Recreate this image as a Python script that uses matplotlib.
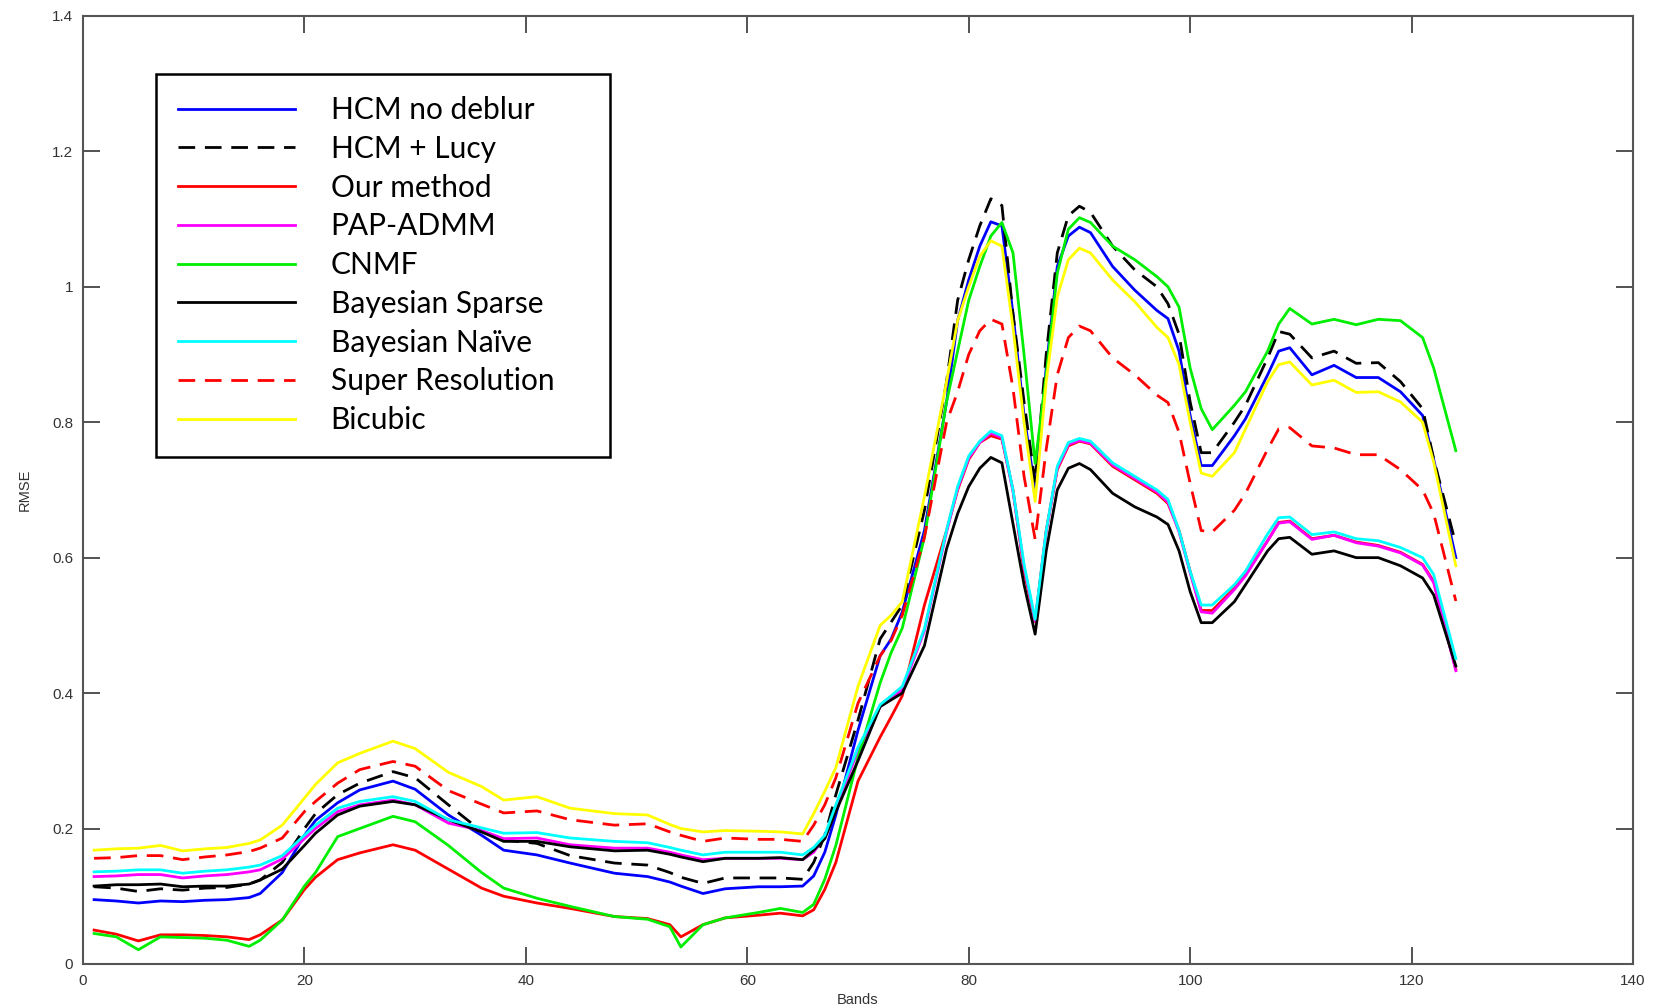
import matplotlib
matplotlib.use('Agg')
import matplotlib.pyplot as plt
from matplotlib.ticker import FormatStrFormatter

plt.rcParams['font.family'] = ['Liberation Sans', 'DejaVu Sans']

# spectral bands sampled along the curves
bands = [1, 3, 5, 7, 9, 11, 13, 15, 16, 18, 20, 21, 23, 25, 28, 30, 33, 36, 38, 41, 44, 48, 51, 53, 54, 56, 58, 61, 63, 65,
         66, 67, 68, 70, 72, 73, 74, 76, 78, 79, 80, 81, 82, 83, 84, 85, 86, 87, 88, 89, 90,
         91, 93, 95, 97, 98, 99, 100, 101, 102, 104, 105, 107, 108, 109, 111, 113, 115, 117, 119, 121, 122, 124]

hcm_no_deblur = [.095, .093, .090, .093, .092, .094, .095, .098, .104, .135, .190, .212, .238, .257, .270, .258, .220, .190, .168, .161,
                 .149, .134, .129, .121, .115, .104, .111, .114, .114, .115,
                 .130, .165, .220, .345, .455, .480, .520, .640, .830, .950, 1.010, 1.060, 1.096, 1.090, .960, .810, .700, .880, 1.030, 1.075, 1.088,
                 1.080, 1.030, .995, .965, .953, .905, .810, .736, .736, .780, .805, .870, .905, .910, .870, .884, .866, .866, .845, .810, .745, .600]

hcm_lucy = [.114, .112, .107, .111, .109, .112, .113, .118, .124, .150, .200, .222, .250, .267, .284, .275, .235, .196, .183, .178,
            .160, .149, .146, .135, .128, .119, .127, .127, .127, .125,
            .150, .190, .250, .360, .480, .505, .530, .670, .860, .980, 1.040, 1.090, 1.130, 1.120, .960, .830, .711, .900, 1.050, 1.105, 1.119,
            1.110, 1.060, 1.025, 1.000, .975, .930, .830, .755, .755, .800, .825, .895, .934, .930, .895, .905, .887, .888, .860, .820, .746, .620]

our_method = [.050, .044, .034, .043, .043, .042, .040, .036, .043, .065, .110, .128, .154, .164, .176, .168, .140, .112, .100, .090,
              .082, .070, .067, .058, .040, .058, .068, .072, .075, .071,
              .080, .110, .150, .270, .335, .365, .396, .530, .640, .700, .745, .770, .780, .775, .700, .580, .505, .640, .730, .765, .772,
              .768, .735, .715, .695, .680, .640, .580, .522, .522, .555, .575, .625, .652, .654, .628, .633, .623, .618, .608, .590, .565, .435]

pap_admm = [.129, .130, .132, .132, .127, .130, .132, .136, .139, .155, .185, .200, .225, .235, .242, .235, .208, .197, .185, .186,
            .176, .171, .171, .165, .161, .154, .156, .156, .156, .154,
            .165, .188, .230, .315, .380, .393, .405, .492, .638, .702, .747, .770, .784, .777, .698, .586, .506, .638, .732, .767, .773,
            .769, .737, .717, .697, .682, .638, .578, .520, .518, .553, .573, .625, .651, .653, .627, .633, .622, .617, .607, .589, .563, .433]

cnmf = [.045, .040, .021, .040, .039, .038, .035, .026, .035, .065, .115, .135, .188, .200, .218, .210, .175, .135, .112, .097,
        .085, .070, .066, .055, .025, .058, .068, .076, .082, .076,
        .088, .125, .175, .305, .415, .460, .496, .630, .830, .905, .980, 1.030, 1.075, 1.095, 1.050, .900, .739, .870, 1.020, 1.085, 1.102,
        1.095, 1.060, 1.040, 1.015, 1.000, .970, .880, .820, .789, .825, .845, .905, .945, .968, .945, .952, .944, .952, .950, .925, .880, .758]

bayes_sparse = [.115, .117, .117, .118, .114, .115, .115, .118, .124, .140, .175, .193, .220, .233, .240, .235, .213, .195, .181, .181,
                .173, .167, .168, .162, .158, .151, .156, .156, .157, .154,
                .168, .185, .225, .300, .380, .390, .400, .470, .613, .665, .705, .732, .748, .740, .650, .560, .487, .610, .700, .732, .739,
                .730, .695, .675, .660, .649, .610, .550, .504, .504, .535, .560, .610, .628, .630, .605, .610, .600, .600, .588, .570, .545, .440]

bayes_naive = [.136, .137, .139, .139, .134, .137, .139, .143, .146, .160, .190, .205, .230, .240, .247, .240, .213, .201, .193, .194,
               .186, .181, .179, .172, .168, .161, .165, .165, .165, .161,
               .172, .190, .235, .320, .383, .396, .410, .495, .641, .705, .750, .772, .787, .780, .700, .590, .509, .640, .735, .770, .776,
               .772, .740, .720, .700, .686, .640, .580, .530, .530, .560, .580, .635, .659, .660, .634, .638, .628, .625, .615, .600, .575, .451]

super_res = [.156, .157, .160, .160, .154, .158, .161, .166, .171, .186, .225, .240, .267, .287, .299, .292, .256, .236, .223, .226,
             .213, .205, .207, .195, .190, .181, .186, .184, .184, .181,
             .205, .235, .275, .385, .455, .478, .515, .630, .800, .845, .900, .935, .952, .945, .850, .720, .627, .760, .870, .925, .942,
             .935, .895, .870, .840, .829, .785, .710, .640, .638, .670, .695, .760, .790, .792, .765, .762, .752, .752, .730, .700, .665, .536]

bicubic = [.168, .170, .171, .175, .167, .170, .172, .178, .183, .205, .245, .265, .297, .311, .329, .318, .283, .262, .242, .247,
           .230, .222, .220, .206, .200, .195, .197, .196, .195, .192,
           .222, .255, .290, .410, .500, .515, .535, .690, .860, .950, 1.000, 1.045, 1.068, 1.060, .940, .800, .683, .860, .985, 1.040, 1.057,
           1.050, 1.010, .978, .940, .925, .885, .800, .725, .720, .755, .790, .860, .885, .889, .855, .862, .844, .845, .830, .800, .741, .588]

series = [
    ('HCM no deblur', hcm_no_deblur, '#0000ff', '-'),
    ('HCM + Lucy', hcm_lucy, 'black', '--'),
    ('Our method', our_method, '#ff0000', '-'),
    ('PAP-ADMM', pap_admm, '#ff00ff', '-'),
    ('CNMF', cnmf, '#00ee00', '-'),
    ('Bayesian Sparse', bayes_sparse, 'black', '-'),
    ('Bayesian Naïve', bayes_naive, '#00ffff', '-'),
    ('Super Resolution', super_res, '#ff0000', '--'),
    ('Bicubic', bicubic, '#ffff00', '-'),
]

fig = plt.figure(figsize=(16.57, 10.08), dpi=100)
ax = fig.add_axes([0.0501, 0.0437, 0.9354, 0.9405])

for name, vals, col, ls in series:
    if ls == '--':
        ax.plot(bands, vals, color=col, lw=2.0, dashes=(6, 3.5), label=name)
    else:
        ax.plot(bands, vals, color=col, lw=2.0, label=name)

ax.set_xlim(0, 140)
ax.set_ylim(0, 1.4)
ax.set_xticks(range(0, 141, 20))
ax.set_yticks([0, 0.2, 0.4, 0.6, 0.8, 1.0, 1.2, 1.4])
ax.yaxis.set_major_formatter(FormatStrFormatter('%g'))
ax.tick_params(direction='in', length=12, width=1.3, top=True, right=True,
               labelsize=11, labelcolor='#333333', color='#444444', pad=7)
for sp in ax.spines.values():
    sp.set_color('#555555')
    sp.set_linewidth(1.5)

ax.set_xlabel('Bands', fontsize=10.5, color='#333333', labelpad=4)
ax.set_ylabel('RMSE', fontsize=10.5, color='#333333', labelpad=15)

leg = ax.legend(loc='upper left', bbox_to_anchor=(0.047, 0.939, 0.293, 0.0),
                mode='expand', borderaxespad=0, fancybox=False, edgecolor='black',
                framealpha=1, handlelength=3.9, handletextpad=1.2, labelspacing=0.36,
                borderpad=0.75, prop={'family': 'Lato', 'size': 21.5})
leg.get_frame().set_linewidth(1.8)

fig.savefig('out.png', dpi=100)
